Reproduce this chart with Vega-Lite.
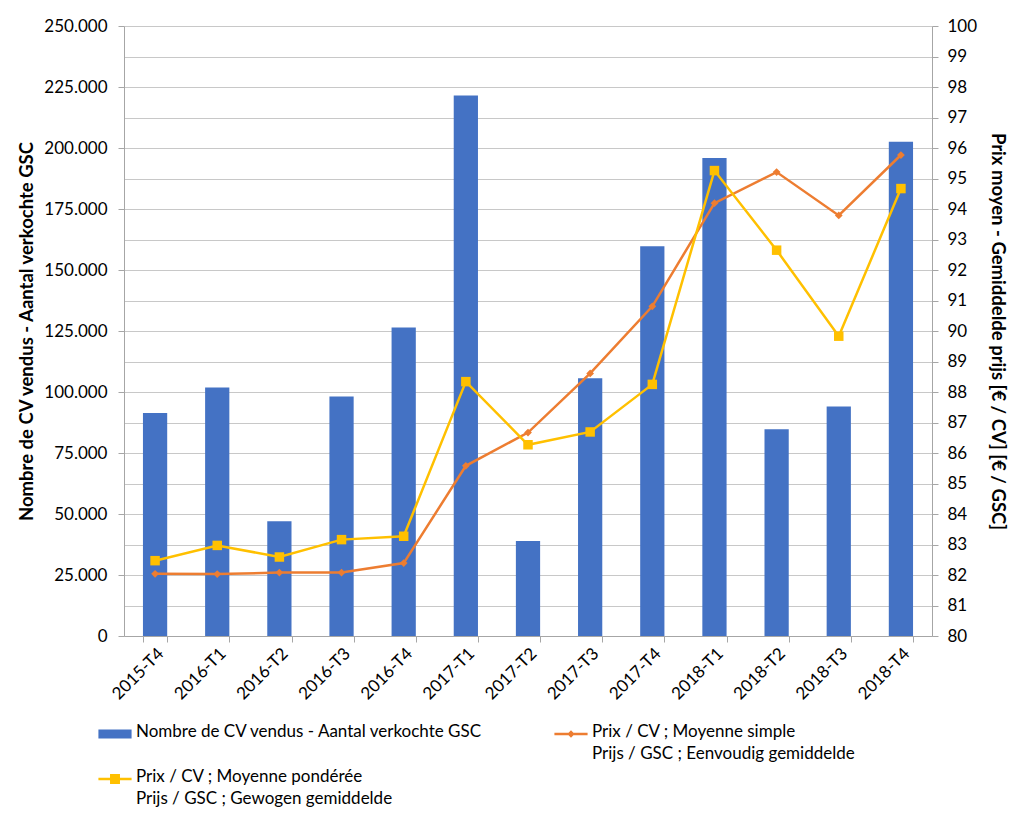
{
  "$schema": "https://vega.github.io/schema/vega-lite/v6.json",
  "width": 808,
  "height": 610,
  "autosize": {"type": "none"},
  "padding": {"left": 124, "top": 26, "right": 92, "bottom": 195},
  "background": "white",
  "config": {
    "font": "Lato",
    "view": {"stroke": null},
    "locale": {"number": {"decimal": ",", "thousands": ".", "grouping": [3], "currency": ["€", ""]}},
    "axis": {"labelFont": "Lato", "titleFont": "Lato", "labelColor": "#000000", "titleColor": "#000000", "domainColor": "#a6a6a6", "tickColor": "#a6a6a6"}
  },
  "data": {"values": [
    {"q": "2015-T4", "s": "A", "v": 91400},
    {"q": "2016-T1", "s": "A", "v": 101800},
    {"q": "2016-T2", "s": "A", "v": 47000},
    {"q": "2016-T3", "s": "A", "v": 98200},
    {"q": "2016-T4", "s": "A", "v": 126400},
    {"q": "2017-T1", "s": "A", "v": 221500},
    {"q": "2017-T2", "s": "A", "v": 38900},
    {"q": "2017-T3", "s": "A", "v": 105600},
    {"q": "2017-T4", "s": "A", "v": 159700},
    {"q": "2018-T1", "s": "A", "v": 195900},
    {"q": "2018-T2", "s": "A", "v": 84700},
    {"q": "2018-T3", "s": "A", "v": 94100},
    {"q": "2018-T4", "s": "A", "v": 202600},
    {"q": "2015-T4", "s": "B", "v": 82.04},
    {"q": "2016-T1", "s": "B", "v": 82.03},
    {"q": "2016-T2", "s": "B", "v": 82.08},
    {"q": "2016-T3", "s": "B", "v": 82.08},
    {"q": "2016-T4", "s": "B", "v": 82.39},
    {"q": "2017-T1", "s": "B", "v": 85.58},
    {"q": "2017-T2", "s": "B", "v": 86.67},
    {"q": "2017-T3", "s": "B", "v": 88.61},
    {"q": "2017-T4", "s": "B", "v": 90.81},
    {"q": "2018-T1", "s": "B", "v": 94.19},
    {"q": "2018-T2", "s": "B", "v": 95.21},
    {"q": "2018-T3", "s": "B", "v": 93.79},
    {"q": "2018-T4", "s": "B", "v": 95.77},
    {"q": "2015-T4", "s": "C", "v": 82.47},
    {"q": "2016-T1", "s": "C", "v": 82.97},
    {"q": "2016-T2", "s": "C", "v": 82.59},
    {"q": "2016-T3", "s": "C", "v": 83.16},
    {"q": "2016-T4", "s": "C", "v": 83.27},
    {"q": "2017-T1", "s": "C", "v": 88.34},
    {"q": "2017-T2", "s": "C", "v": 86.27},
    {"q": "2017-T3", "s": "C", "v": 86.69},
    {"q": "2017-T4", "s": "C", "v": 88.25},
    {"q": "2018-T1", "s": "C", "v": 95.26},
    {"q": "2018-T2", "s": "C", "v": 92.65},
    {"q": "2018-T3", "s": "C", "v": 89.83},
    {"q": "2018-T4", "s": "C", "v": 94.67}
  ]},
  "encoding": {
    "x": {
      "field": "q", "type": "ordinal", "title": null,
      "scale": {"paddingInner": 0.61, "paddingOuter": 0.305},
      "axis": {"labelAngle": -45, "labelFontSize": 17, "tickBand": "extent", "tickSize": 6, "labelPadding": 3, "domainColor": "#a6a6a6"}
    }
  },
  "layer": [
    {
      "transform": [{"filter": "datum.s == 'A'"}],
      "mark": {"type": "bar", "color": "#4472C4"},
      "encoding": {
        "y": {
          "field": "v", "type": "quantitative",
          "scale": {"domain": [0, 250000], "nice": false},
          "title": "Nombre de CV vendus - Aantal verkochte GSC",
          "axis": {"values": [0,25000,50000,75000,100000,125000,150000,175000,200000,225000,250000], "format": ",.0f", "grid": false, "labelFontSize": 17, "titleFontSize": 18.5, "titleFontWeight": "bold", "titlePadding": 7, "tickSize": 6, "labelPadding": 11}
        },
        "color": {
          "field": "s", "type": "nominal",
          "scale": {"domain": ["A", "B", "C"], "range": ["#4472C4", "#ED7D31", "#FFC000"]},
          "legend": {
            "title": null, "orient": "none", "legendX": -26, "legendY": 691, "columns": 2, "direction": "horizontal",
            "labelFontSize": 17, "labelLimit": 500, "columnPadding": 70, "rowPadding": 0, "symbolSize": 1100, "symbolStrokeWidth": 0,
            "labelExpr": "datum.value == 'A' ? ['Nombre de CV vendus - Aantal verkochte GSC', ' '] : datum.value == 'B' ? ['Prix / CV ; Moyenne simple', 'Prijs / GSC ; Eenvoudig gemiddelde'] : ['Prix / CV ; Moyenne pondérée', 'Prijs / GSC ; Gewogen gemiddelde']",
            "labelBaseline": "top", "labelOffset": 4,
            "encode": {
              "labels": {"update": {"lineHeight": {"value": 22}, "dy": {"value": -10}}},
              "symbols": {"update": {
                "shape": {"signal": "datum.value == 'A' ? 'M-1,-0.27H1V0.27H-1Z' : datum.value == 'B' ? 'M-1,-0.075H1V0.075H-1Z M0,-0.22L0.22,0L0,0.22L-0.22,0Z' : 'M-1,-0.075H1V0.075H-1Z M-0.3,-0.3H0.3V0.3H-0.3Z'"},
                "strokeWidth": {"value": 0}
              }}
            }
          }
        }
      }
    },
    {
      "transform": [{"filter": "datum.s != 'A'"}],
      "mark": {"type": "line", "strokeWidth": 2.5},
      "encoding": {
        "y": {
          "field": "v", "type": "quantitative",
          "scale": {"domain": [80, 100], "nice": false, "zero": false},
          "title": "Prix moyen - Gemiddelde prijs [€ / CV] [€ / GSC]",
          "axis": {"orient": "right", "values": [80,81,82,83,84,85,86,87,88,89,90,91,92,93,94,95,96,97,98,99,100], "grid": true, "gridColor": "#c8c8c8", "gridWidth": 1, "labelFontSize": 17, "titleFontSize": 18.5, "titleFontWeight": "bold", "titlePadding": 11, "tickSize": 6, "labelPadding": 9}
        },
        "color": {"field": "s", "type": "nominal"}
      }
    },
    {
      "transform": [{"filter": "datum.s == 'B'"}],
      "mark": {"type": "point", "shape": "diamond", "filled": true, "size": 60, "opacity": 1, "color": "#ED7D31"},
      "encoding": {"y": {"field": "v", "type": "quantitative", "scale": {"domain": [80, 100], "nice": false, "zero": false}, "axis": null}}
    },
    {
      "transform": [{"filter": "datum.s == 'C'"}],
      "mark": {"type": "point", "shape": "square", "filled": true, "size": 90, "opacity": 1, "color": "#FFC000"},
      "encoding": {"y": {"field": "v", "type": "quantitative", "scale": {"domain": [80, 100], "nice": false, "zero": false}, "axis": null}}
    }
  ],
  "resolve": {"scale": {"y": "independent"}}
}
